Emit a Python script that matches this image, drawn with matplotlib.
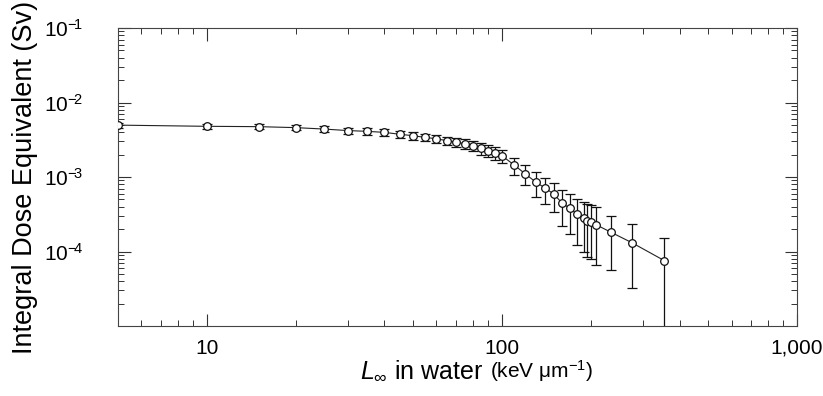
import matplotlib
matplotlib.use("Agg")
import matplotlib.pyplot as plt
from matplotlib.ticker import LogLocator, FixedLocator, FixedFormatter, NullFormatter
from matplotlib.offsetbox import TextArea, HPacker, AnchoredOffsetbox
import numpy as np

# Data
let_vals = [5, 10, 15, 20, 25, 30, 35, 40, 45, 50, 55, 60, 65, 70, 75, 80, 85, 90,
            95, 100, 110, 120, 130, 140, 150, 160, 170, 180, 190, 195, 200, 208,
            235, 275, 355]
dose = [4.97e-3, 4.79e-3, 4.74e-3, 4.6e-3, 4.4e-3, 4.2e-3, 4.1e-3, 3.97e-3, 3.75e-3,
        3.58e-3, 3.4e-3, 3.26e-3, 3.07e-3, 2.93e-3, 2.8e-3, 2.63e-3, 2.42e-3, 2.25e-3,
        2.11e-3, 1.93e-3, 1.45e-3, 1.10e-3, 8.6e-4, 7.1e-4, 5.9e-4, 4.45e-4, 3.8e-4,
        3.16e-4, 2.8e-4, 2.6e-4, 2.5e-4, 2.3e-4, 1.8e-4, 1.32e-4, 7.55e-5]
dose_err = [4.0e-4, 3.5e-4, 3.5e-4, 3.5e-4, 4.0e-4, 4.0e-4, 4.0e-4, 4.0e-4, 4.0e-4,
            4.0e-4, 4.0e-4, 4.0e-4, 4.0e-4, 4.0e-4, 4.0e-4, 4.2e-4, 4.4e-4, 4.2e-4,
            4.0e-4, 3.9e-4, 3.7e-4, 3.3e-4, 3.2e-4, 2.7e-4, 2.5e-4, 2.25e-4, 2.1e-4,
            1.95e-4, 1.8e-4, 1.75e-4, 1.7e-4, 1.65e-4, 1.23e-4, 1.0e-4, 7.5e-5]

x_ticks = [10, 100, 1000]
x_ticklabels = ["10", "100", "1,000"]
y_ticks = [1e-4, 1e-3, 1e-2, 1e-1]
y_ticklabels = [r"$\mathregular{10^{-\!4}}$", r"$\mathregular{10^{-\!3}}$",
                r"$\mathregular{10^{-\!2}}$", r"$\mathregular{10^{-\!1}}$"]

plt.rcParams['font.family'] = ['Liberation Sans', 'DejaVu Sans']
plt.rcParams['mathtext.fontset'] = 'custom'
plt.rcParams['mathtext.rm'] = 'Liberation Sans'
plt.rcParams['mathtext.it'] = 'Liberation Sans:italic'
plt.rcParams['mathtext.bf'] = 'Liberation Sans:bold'

fig = plt.figure(figsize=(8.23, 3.96), dpi=100)
ax = fig.add_axes([118/823, 1-326/396, (797-118)/823, (326-28)/396])

ax.set_xscale('log')
ax.set_yscale('log')

x = np.array(let_vals, dtype=float)
y = np.array(dose)
e = np.array(dose_err)
lower = np.minimum(e, y - 1e-7)

ax.plot(x, y, color='#222222', lw=0.8, zorder=2)
ax.errorbar(x, y, yerr=[lower, e], fmt='none', ecolor='#111111', elinewidth=0.9,
            capsize=3.5, capthick=0.9, zorder=3)
ax.plot(x, y, 'o', mfc='white', mec='#111111', mew=0.9, ms=5.5, zorder=4)

ax.set_xlim(5, 1000)
ax.set_ylim(1e-5, 1e-1)

ax.xaxis.set_major_locator(FixedLocator(x_ticks))
ax.xaxis.set_major_formatter(FixedFormatter(x_ticklabels))
ax.xaxis.set_minor_locator(LogLocator(base=10, subs=np.arange(2, 10), numticks=20))
ax.xaxis.set_minor_formatter(NullFormatter())
ax.yaxis.set_major_locator(FixedLocator(y_ticks))
ax.yaxis.set_major_formatter(FixedFormatter(y_ticklabels))
ax.yaxis.set_minor_locator(LogLocator(base=10, subs=np.arange(2, 10), numticks=20))
ax.yaxis.set_minor_formatter(NullFormatter())

ax.tick_params(which='both', direction='in', top=True, right=True, colors='#333333',
               labelcolor='black')
ax.tick_params(which='major', length=9, width=0.8, labelsize=15)
ax.tick_params(axis='x', which='major', pad=9)
ax.tick_params(axis='y', which='major', pad=25)
ax.tick_params(which='minor', length=4.5, width=0.7)
for s in ax.spines.values():
    s.set_linewidth(0.8)
    s.set_color('#444444')

ax.set_ylabel("Integral Dose Equivalent (Sv)", fontsize=19.5)
ax.yaxis.set_label_coords(-(118-38)/679, 0.5)

# x label with two font sizes
t1 = TextArea(r"$L_{\infty}$ in water", textprops=dict(fontsize=18))
t2 = TextArea(r"(keV $\mathregular{\mu m^{-1}}$)", textprops=dict(fontsize=15))
box = HPacker(children=[t1, t2], align="baseline", pad=0, sep=5)
anch = AnchoredOffsetbox(loc='center', child=box, pad=0, frameon=False,
                         bbox_to_anchor=(477/823, 1-371/396),
                         bbox_transform=fig.transFigure, borderpad=0)
fig.add_artist(anch)

fig.savefig("out.png", dpi=100)
